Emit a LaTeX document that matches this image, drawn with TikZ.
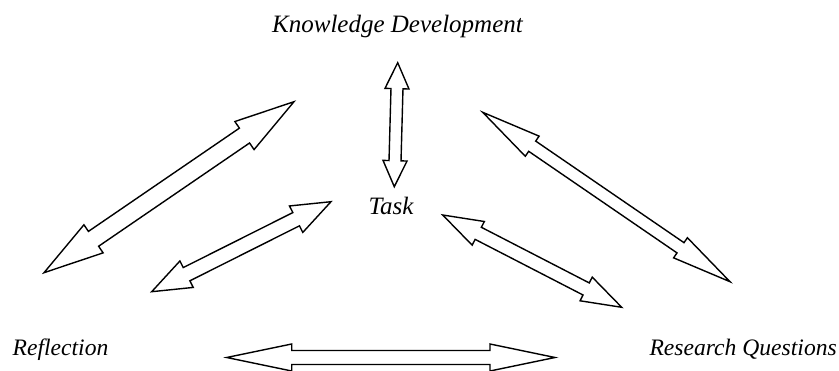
\documentclass[tikz,border=0pt]{standalone}
\usepackage{fontspec}
\setmainfont{Liberation Serif}[ItalicFont={Liberation Serif Italic}]
\usepackage{tikz}
\usetikzlibrary{calc}

% double headed block arrow: start, end, head length, head half width, shaft half width
\newcommand{\dblarrow}[5]{%
  \coordinate (h1) at ($(#1)!#3!(#2)$);
  \coordinate (h2) at ($(#2)!#3!(#1)$);
  \draw[blockarrow] (#1) -- ($(h1)!#4!90:(#2)$) -- ($(h1)!#5!90:(#2)$)
    -- ($(h2)!#5!-90:(#1)$) -- ($(h2)!#4!-90:(#1)$) -- (#2)
    -- ($(h2)!#4!90:(#1)$) -- ($(h2)!#5!90:(#1)$)
    -- ($(h1)!#5!-90:(#2)$) -- ($(h1)!#4!-90:(#2)$) -- cycle;
}

\begin{document}
\begin{tikzpicture}[x=1pt,y=-1pt,
    label/.style={font=\fontsize{25}{30}\selectfont\itshape, inner sep=0pt},
    smalllabel/.style={font=\fontsize{23.6}{28}\selectfont\itshape, inner sep=0pt},
    blockarrow/.style={draw=black, fill=white, line width=1.4pt, line join=miter}]
  \useasboundingbox (0,0) rectangle (839,371);

  \node[label, anchor=base] (kd) at (397.5,33) {Knowledge Development};
  \node[label, anchor=base] (task) at (391,215) {Task};
  \node[smalllabel, anchor=base west] (refl) at (12.5,356) {Reflection};
  \node[smalllabel, anchor=base east] (rq) at (837,356) {Research Questions};

  % arrow ends
  \coordinate (kdA) at (397.7,62.7);  \coordinate (kdB) at (394.3,186.7);
  \coordinate (rfA) at (294,101.7);   \coordinate (rfB) at (44,272.7);
  \coordinate (tlA) at (331,201.7);   \coordinate (tlB) at (151.7,291.7);
  \coordinate (rqA) at (482.7,112.3); \coordinate (rqB) at (730,281.7);
  \coordinate (trA) at (442.7,215);   \coordinate (trB) at (621.7,307.3);
  \coordinate (btA) at (226.7,357.5); \coordinate (btB) at (555,357.5);

  \dblarrow{kdA}{kdB}{26pt}{12pt}{6pt}
  \dblarrow{rfA}{rfB}{60pt}{17pt}{9pt}
  \dblarrow{tlA}{tlB}{39pt}{14.8pt}{7.4pt}
  \dblarrow{rqA}{rqB}{60pt}{12.2pt}{6.2pt}
  \dblarrow{trA}{trB}{40pt}{13.3pt}{6.8pt}
  \dblarrow{btA}{btB}{65pt}{13.5pt}{7pt}
\end{tikzpicture}
\end{document}
